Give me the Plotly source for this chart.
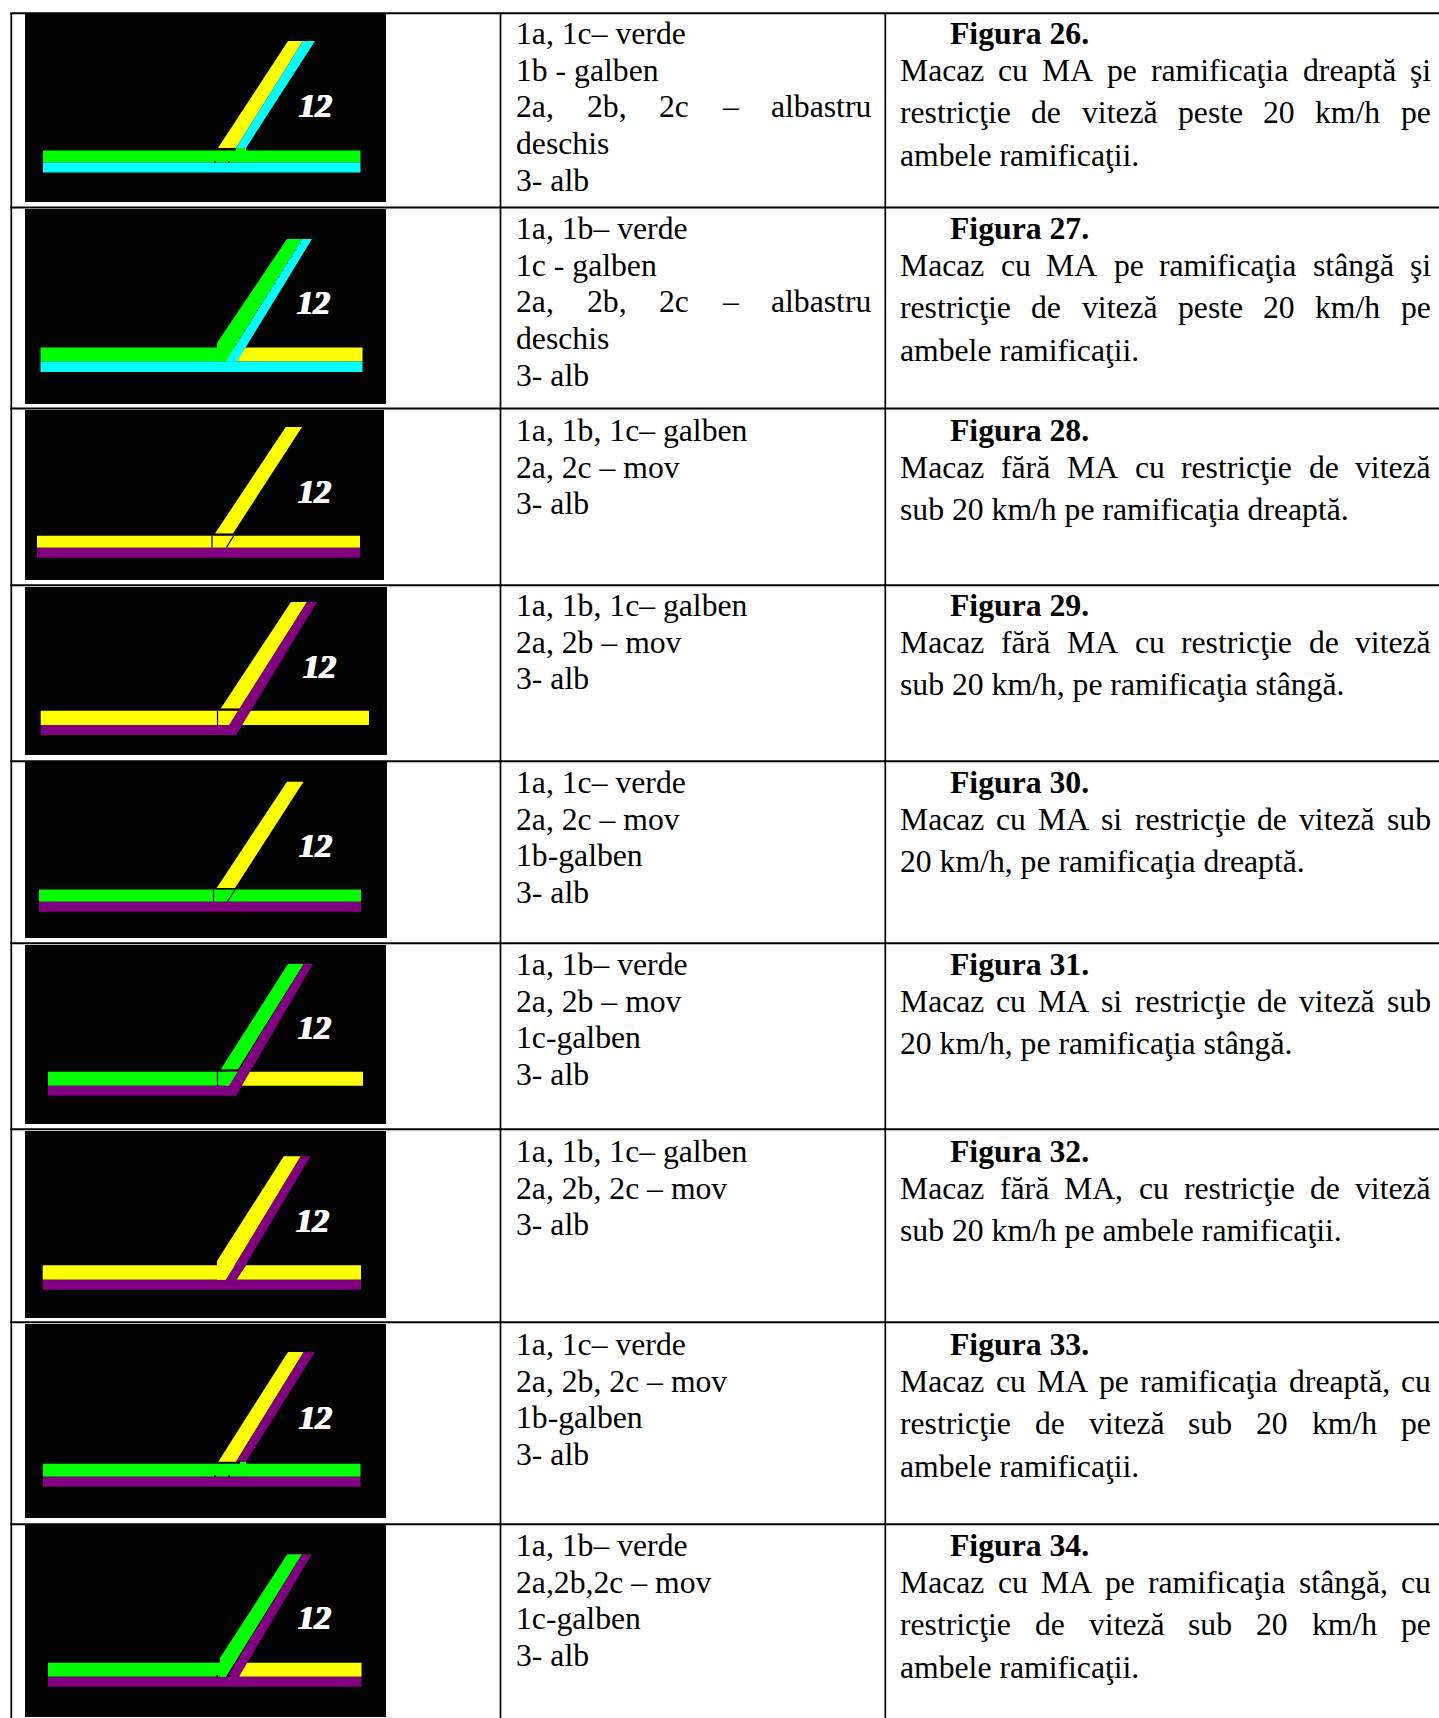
import plotly.graph_objects as go

# ---- colours of the schematic ----
BLACK = "#030303"
GREEN = "#00FF00"
CYAN = "#00FFFF"
YELLOW = "#FFFF00"
PURPLE = "#800080"

# ---- table grid ----
ROW_LINES = [13.2, 207.4, 408.4, 585.2, 761.2, 943.2, 1129.2, 1322.2, 1524.2]
COL_LINES = [11.3, 500.5, 885.3]
FIG_NUMBERS = [26, 27, 28, 29, 30, 31, 32, 33, 34]

# ---- black picture panels ----
PANEL_X0 = [25, 25, 25, 25, 25, 25, 25, 25, 25]
PANEL_X1 = [386, 386, 384, 387, 387, 386, 386, 386, 386]
PANEL_Y0 = [14, 209, 410, 587, 762, 945, 1131, 1324, 1525]
PANEL_Y1 = [202, 404, 580, 755, 938, 1124, 1318, 1518, 1717]

# ---- "12" label centres ----
LABEL_X = [315.5, 313.5, 314.5, 319.5, 315.5, 314.5, 312.5, 315.5, 314.5]
LABEL_Y = [106, 303, 492, 667, 846, 1028, 1221, 1418, 1618]

# ---- polygons of each picture: (colour, x list, y list) ----
FIG26 = [
    (GREEN, [43, 360.5, 360.5, 43], [150.5, 150.5, 162.5, 162.5]),
    (CYAN, [43, 360.5, 360.5, 43], [162.5, 162.5, 172.5, 172.5]),
    (YELLOW, [288, 303, 236, 218], [41, 41, 148, 148]),
    (CYAN, [303, 315, 246, 236], [41, 41, 148, 148]),
    (GREEN, [236, 246, 246, 236], [148, 148, 151, 151]),
]
FIG27 = [
    (YELLOW, [226, 362.5, 362.5, 226], [347.5, 347.5, 361.5, 361.5]),
    (GREEN, [40.5, 226, 226, 40.5], [347.5, 347.5, 361.5, 361.5]),
    (CYAN, [40.5, 362.5, 362.5, 40.5], [361.5, 361.5, 372, 372]),
    (GREEN, [287, 302, 226, 217, 217], [239, 239, 361.5, 361.5, 343]),
    (CYAN, [302, 312, 237, 226], [239, 239, 361.5, 361.5]),
]
FIG28 = [
    (YELLOW, [37, 360, 360, 37], [535.7, 535.7, 547.7, 547.7]),
    (PURPLE, [37, 360, 360, 37], [547.7, 547.7, 557.7, 557.7]),
    (YELLOW, [285.7, 302, 233, 215], [427, 427, 533.5, 533.5]),
]
FIG29 = [
    (YELLOW, [40.7, 369, 369, 40.7], [710.7, 710.7, 725, 725]),
    (PURPLE, [40.7, 229, 242, 236, 40.7], [725, 725, 725, 735, 735]),
    (YELLOW, [291, 307, 240, 220.7], [602, 602, 708.5, 708.5]),
    (PURPLE, [307, 317, 236, 229], [602, 602, 735, 725]),
]
FIG30 = [
    (GREEN, [39, 361, 361, 39], [889.5, 889.5, 901.7, 901.7]),
    (PURPLE, [39, 361, 361, 39], [901.7, 901.7, 911.7, 911.7]),
    (YELLOW, [287, 303.5, 235, 216.7], [781.7, 781.7, 888, 888]),
]
FIG31 = [
    (YELLOW, [226, 363, 363, 226], [1071.7, 1071.7, 1085.7, 1085.7]),
    (GREEN, [48, 240, 229, 48], [1071.7, 1071.7, 1085.7, 1085.7]),
    (PURPLE, [48, 229, 242, 236, 48], [1085.7, 1085.7, 1085.7, 1095.7, 1095.7]),
    (GREEN, [288, 303.7, 238, 220.7], [964, 964, 1069.5, 1069.5]),
    (PURPLE, [303.7, 313, 236, 229], [964, 964, 1095.7, 1085.7]),
]
FIG32 = [
    (YELLOW, [42.7, 361, 361, 42.7], [1265.3, 1265.3, 1279.7, 1279.7]),
    (PURPLE, [42.7, 361, 361, 42.7], [1279.7, 1279.7, 1289.7, 1289.7]),
    (YELLOW, [283.7, 300.7, 226, 217, 217], [1156.3, 1156.3, 1279.7, 1279.7, 1261]),
    (BLACK, [236.7, 246, 236, 226], [1265.3, 1265.3, 1279.7, 1279.7]),
    (PURPLE, [300.7, 310.7, 236.7, 226], [1156.3, 1156.3, 1279.7, 1279.7]),
]
FIG33 = [
    (GREEN, [43, 360.5, 360.5, 43], [1463.7, 1463.7, 1476.7, 1476.7]),
    (PURPLE, [43, 360.5, 360.5, 43], [1476.7, 1476.7, 1486.7, 1486.7]),
    (YELLOW, [288, 303.7, 236, 218.3], [1352, 1352, 1461.7, 1461.7]),
    (PURPLE, [303.7, 315, 246, 236], [1352, 1352, 1461.7, 1461.7]),
    (GREEN, [240, 246, 246, 240], [1461.7, 1461.7, 1464, 1464]),
]
FIG34 = [
    (YELLOW, [239, 361.5, 361.5, 239], [1662.7, 1662.7, 1676.7, 1676.7]),
    (GREEN, [48, 230, 226, 48], [1662.7, 1662.7, 1676.7, 1676.7]),
    (PURPLE, [48, 361.5, 361.5, 48], [1676.7, 1676.7, 1686.7, 1686.7]),
    (GREEN, [287.3, 302, 226, 220, 220], [1554.3, 1554.3, 1676.7, 1676.7, 1658]),
    (BLACK, [239, 245, 239], [1662.7, 1662.7, 1676.7]),
    (PURPLE, [302, 311.7, 239, 227], [1554.3, 1554.3, 1676.7, 1676.7]),
]
FIGURE_POLYS = [FIG26, FIG27, FIG28, FIG29, FIG30, FIG31, FIG32, FIG33, FIG34]

# ---- thin black joints drawn over the tracks: (x list, y list) ----
JOINTS = [
    ([212, 212], [536, 547.5]), ([214, 233], [534.5, 534.5]), ([233.5, 226.5], [536, 547.5]),
    ([217.5, 217.5], [711, 725]), ([220, 238], [709.5, 709.5]),
    ([213.5, 213.5], [890, 901.5]), ([217, 235], [888.7, 888.7]), ([235, 227.5], [890, 901.5]),
    ([217.5, 217.5], [1072, 1085.5]), ([220, 238], [1070.5, 1070.5]),
]
DOTTED_X = [301, 235]
DOTTED_Y = [243, 345]
DOTS_X = [215, 229, 215, 229, 217, 229]
DOTS_Y = [162, 162, 1476, 1476, 1676, 1676]

# ---- texts ----
LEFT_TEXT = [
    ["1a, 1c– verde", "1b - galben", "2a, 2b, 2c – albastru", "deschis", "3- alb"],
    ["1a, 1b– verde", "1c - galben", "2a, 2b, 2c – albastru", "deschis", "3- alb"],
    ["1a, 1b, 1c– galben", "2a, 2c – mov", "3- alb"],
    ["1a, 1b, 1c– galben", "2a, 2b – mov", "3- alb"],
    ["1a, 1c– verde", "2a, 2c – mov", "1b-galben", "3- alb"],
    ["1a, 1b– verde", "2a, 2b – mov", "1c-galben", "3- alb"],
    ["1a, 1b, 1c– galben", "2a, 2b, 2c – mov", "3- alb"],
    ["1a, 1c– verde", "2a, 2b, 2c – mov", "1b-galben", "3- alb"],
    ["1a, 1b– verde", "2a,2b,2c – mov", "1c-galben", "3- alb"],
]
RIGHT_TEXT = [
    ["Macaz cu MA pe ramificaţia dreaptă şi", "restricţie de viteză peste 20 km/h pe", "ambele ramificaţii."],
    ["Macaz cu MA pe ramificaţia stângă şi", "restricţie de viteză peste 20 km/h pe", "ambele ramificaţii."],
    ["Macaz fără MA cu restricţie de viteză", "sub 20 km/h pe ramificaţia dreaptă."],
    ["Macaz fără MA cu restricţie de viteză", "sub 20 km/h, pe ramificaţia stângă."],
    ["Macaz cu MA si restricţie de viteză sub", "20 km/h, pe ramificaţia dreaptă."],
    ["Macaz cu MA si restricţie de viteză sub", "20 km/h, pe ramificaţia stângă."],
    ["Macaz fără MA, cu restricţie de viteză", "sub 20 km/h pe ambele ramificaţii."],
    ["Macaz cu MA pe ramificaţia dreaptă, cu", "restricţie de viteză sub 20 km/h pe", "ambele ramificaţii."],
    ["Macaz cu MA pe ramificaţia stângă, cu", "restricţie de viteză sub 20 km/h pe", "ambele ramificaţii."],
]
FIRST_LINE_Y = [33.5, 228.5, 430.5, 605.5, 782.5, 964.5, 1151.5, 1344.5, 1545.5]

FONT = "Liberation Serif"
SIZE = 31.7
LEFT_X0, LEFT_X1 = 515, 870
RIGHT_X0, RIGHT_X1 = 899, 1430
TITLE_X = 949
PITCH_LEFT = 36.7
PITCH_RIGHT = 42.7
PITCH_TITLE = 36.7

# advance widths of the serif face, in em, used to justify lines
CHAR_W = {
    "a": .444, "b": .5, "c": .444, "d": .5, "e": .444, "f": .333, "g": .5, "h": .5, "i": .278,
    "j": .278, "k": .5, "l": .278, "m": .778, "n": .5, "o": .5, "p": .5, "r": .333, "s": .389,
    "t": .278, "u": .5, "v": .5, "x": .5, "z": .444, "M": .889, "A": .722, ",": .25, ".": .25,
    "/": .278, "–": .5, "-": .333, "ţ": .278, "ş": .389, "ă": .444, "â": .444,
}


def word_w(w):
    return sum(CHAR_W.get(c, .5) for c in w) * SIZE


fig = go.Figure()


def poly(color, xs, ys):
    fig.add_trace(go.Scatter(x=xs + xs[:1], y=ys + ys[:1], mode="lines", fill="toself",
                             fillcolor=color, line=dict(width=0), hoverinfo="skip"))


def seg(xs, ys, w, color="#000000", dash="solid"):
    fig.add_trace(go.Scatter(x=xs, y=ys, mode="lines", line=dict(color=color, width=w, dash=dash),
                             hoverinfo="skip"))


def text(x, y, s, bold=False):
    fig.add_annotation(x=x, y=y, text=f"<b>{s}</b>" if bold else s, showarrow=False, xanchor="left",
                       yanchor="middle", borderpad=0, font=dict(family=FONT, size=SIZE, color="#000000"))


def line_text(x0, x1, y, s, justify):
    words = s.split(" ")
    if not justify or len(words) < 2:
        text(x0, y, s)
        return
    gap = (x1 - x0 - sum(word_w(w) for w in words)) / (len(words) - 1)
    x = x0
    for w in words:
        text(x, y, w)
        x += word_w(w) + gap


# panels and tracks
for i in range(len(FIG_NUMBERS)):
    xa, xb, ya, yb = PANEL_X0[i], PANEL_X1[i], PANEL_Y0[i], PANEL_Y1[i]
    poly(BLACK, [xa, xb, xb, xa], [ya, ya, yb, yb])
    for color, xs, ys in FIGURE_POLYS[i]:
        poly(color, xs, ys)
    fig.add_annotation(x=LABEL_X[i], y=LABEL_Y[i], text="<b><i>12</i></b>", showarrow=False,
                       xanchor="center", yanchor="middle", borderpad=0,
                       font=dict(family=FONT, size=33, color="#FFFFFF",
                                 shadow="1px 0 0 #FFFFFF, -1px 0 0 #FFFFFF"))

for xs, ys in JOINTS:
    seg(xs, ys, 1.2)
seg(DOTTED_X, DOTTED_Y, 1, dash="1px,7px")
fig.add_trace(go.Scatter(x=DOTS_X, y=DOTS_Y, mode="markers", hoverinfo="skip",
                         marker=dict(color="#000000", size=2, line=dict(width=0))))

# grid
for y in ROW_LINES:
    seg([COL_LINES[0] - 1, 1439], [y, y], 2)
for x in COL_LINES:
    seg([x, x], [ROW_LINES[0], 1718], 1.7)

# texts
for i, num in enumerate(FIG_NUMBERS):
    y0 = FIRST_LINE_Y[i]
    for k, s in enumerate(LEFT_TEXT[i]):
        line_text(LEFT_X0, LEFT_X1, y0 + k * PITCH_LEFT, s, "albastru" in s)
    text(TITLE_X, y0, f"Figura {num}.", bold=True)
    lines = RIGHT_TEXT[i]
    for k, s in enumerate(lines):
        y = y0 + PITCH_TITLE + k * PITCH_RIGHT
        line_text(RIGHT_X0, RIGHT_X1, y, s, k < len(lines) - 1)

fig.update_layout(
    width=1439, height=1718, autosize=False, showlegend=False, hovermode=False,
    margin=dict(l=0, r=0, t=0, b=0), paper_bgcolor="#FFFFFF", plot_bgcolor="#FFFFFF",
    xaxis=dict(range=[0, 1439], visible=False, fixedrange=True),
    yaxis=dict(range=[1718, 0], visible=False, fixedrange=True),
)

fig.write_html("out.html", config={"displayModeBar": False},
               post_script="document.body.style.margin='0';document.body.style.overflow='hidden';")
